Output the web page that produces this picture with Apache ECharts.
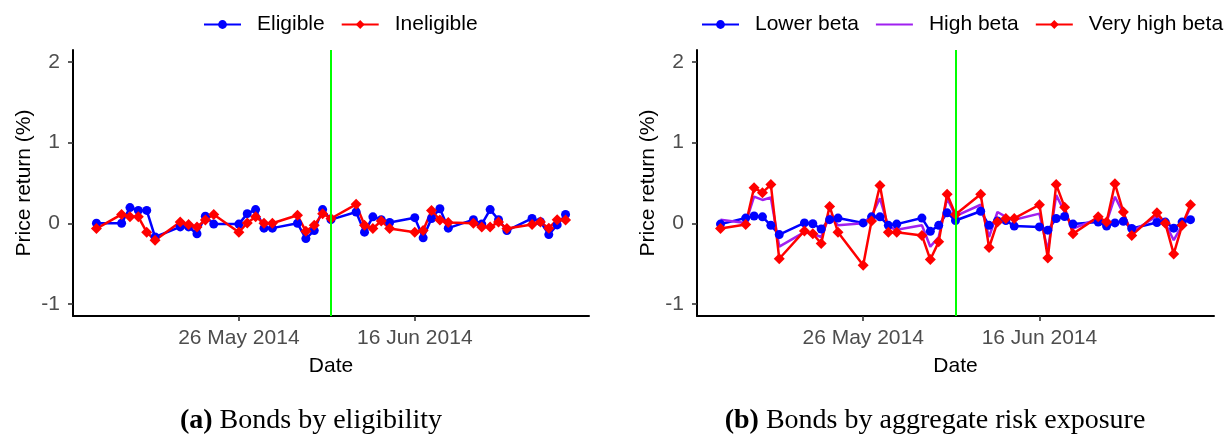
<!DOCTYPE html>
<html><head><meta charset="utf-8">
<script src="https://cdn.jsdelivr.net/npm/echarts@6/dist/echarts.min.js"></script>
<style>html,body{margin:0;padding:0;background:#fff}#c{width:1226px;height:435px}</style>
</head><body><div id="c"></div>
<script>
// ---------- data ----------
const dates = [
  '2014-05-09',
  '2014-05-12','2014-05-13','2014-05-14','2014-05-15','2014-05-16',
  '2014-05-19','2014-05-20','2014-05-21','2014-05-22','2014-05-23',
  '2014-05-26','2014-05-27','2014-05-28','2014-05-29','2014-05-30',
  '2014-06-02','2014-06-03','2014-06-04','2014-06-05','2014-06-06',
  '2014-06-09','2014-06-10','2014-06-11','2014-06-12','2014-06-13',
  '2014-06-16','2014-06-17','2014-06-18','2014-06-19','2014-06-20',
  '2014-06-23','2014-06-24','2014-06-25','2014-06-26','2014-06-27',
  '2014-06-30','2014-07-01','2014-07-02','2014-07-03','2014-07-04'
];
const eligible = [
  0.00,
  0.00, 0.195, 0.16, 0.16, -0.17,
  -0.045, -0.045, -0.13, 0.087, -0.01,
  -0.01, 0.12, 0.17, -0.06, -0.06,
  0.00, -0.19, -0.09, 0.17, 0.045,
  0.14, -0.11, 0.08, 0.045, 0.01,
  0.07, -0.18, 0.06, 0.18, -0.06,
  0.045, -0.01, 0.17, 0.045, -0.09,
  0.06, 0.02, -0.14, -0.02, 0.11
];
const ineligible = [
  -0.065,
  0.11, 0.08, 0.08, -0.11, -0.21,
  0.015, -0.015, -0.045, 0.04, 0.11,
  -0.11, 0.005, 0.08, 0.00, 0.00,
  0.10, -0.10, -0.025, 0.12, 0.06,
  0.235, -0.025, -0.065, 0.03, -0.065,
  -0.11, -0.09, 0.16, 0.04, 0.01,
  0.00, -0.045, -0.045, 0.015, -0.065,
  -0.015, 0.015, -0.06, 0.045, 0.04
];
const lowerBeta = [
  -0.01,
  0.065, 0.09, 0.08, -0.025, -0.14,
  0.005, -0.005, -0.07, 0.045, 0.065,
  0.005, 0.08, 0.08, -0.025, -0.01,
  0.065, -0.10, -0.025, 0.13, 0.035,
  0.15, -0.025, 0.03, 0.035, -0.035,
  -0.045, -0.085, 0.06, 0.085, -0.01,
  0.015, -0.035, 0.005, 0.025, -0.065,
  0.01, 0.015, -0.06, 0.015, 0.045
];
const highBeta = [
  0.045,
  0.005, 0.33, 0.29, 0.32, -0.29,
  -0.11, -0.13, -0.17, 0.10, -0.025,
  0.00, 0.09, 0.31, -0.045, -0.08,
  -0.025, -0.29, -0.17, 0.31, 0.09,
  0.23, -0.17, 0.14, 0.08, 0.045,
  0.12, -0.34, 0.35, 0.14, -0.065,
  0.06, 0.015, 0.33, 0.12, -0.11,
  0.09, 0.00, -0.21, -0.025, 0.20
];
const veryHighBeta = [
  -0.065,
  -0.015, 0.44, 0.38, 0.48, -0.44,
  -0.095, -0.13, -0.25, 0.21, -0.11,
  -0.52, 0.03, 0.47, -0.11, -0.11,
  -0.15, -0.45, -0.23, 0.36, 0.11,
  0.36, -0.30, 0.015, 0.06, 0.06,
  0.23, -0.43, 0.48, 0.20, -0.13,
  0.08, 0.015, 0.49, 0.14, -0.15,
  0.13, 0.00, -0.38, -0.025, 0.23
];
const eventDate = '2014-06-06';
const xTickDates = ['2014-05-26', '2014-06-16'];
const xTickLabels = ['26 May 2014', '16 Jun 2014'];
const yTicks = [-1, 0, 1, 2];
const legendA = ['Eligible', 'Ineligible'];
const legendB = ['Lower beta', 'High beta', 'Very high beta'];
const captionA = ['(a)', 'Bonds by eligibility'];
const captionB = ['(b)', 'Bonds by aggregate risk exposure'];
const xTitle = 'Date';
const yTitle = 'Price return (%)';

// ---------- helpers ----------
const FONT = '"Liberation Sans", Arial, Helvetica, sans-serif';
const SERIF = '"Liberation Serif", "Times New Roman", serif';
const DAY = 86400000;
function dayNum(s) { const p = s.split('-').map(Number); return Math.round(Date.UTC(p[0], p[1] - 1, p[2]) / DAY); }
const xTickDays = xTickDates.map(dayNum);
const firstDay = dayNum(dates[0]), lastDay = dayNum(dates[dates.length - 1]);
const xPad = (lastDay - firstDay) * 0.05;
function pairs(arr) { return dates.map((d, i) => [dayNum(d), arr[i]]); }

function xAxisOpt(gi) {
  return {
    type: 'value', gridIndex: gi, min: firstDay - xPad, max: lastDay + xPad,
    name: xTitle, nameLocation: 'middle', nameGap: 40,
    nameTextStyle: { color: '#000', fontSize: 21, fontFamily: FONT },
    axisLine: { show: true, onZero: false, lineStyle: { color: '#000', width: 2 } },
    axisTick: { show: true, length: 5, customValues: xTickDays, lineStyle: { color: '#333', width: 1.6 } },
    axisLabel: {
      show: true, customValues: xTickDays, color: '#4d4d4d', fontSize: 21, fontFamily: FONT, margin: 12,
      formatter: function (v) {
        for (let i = 0; i < xTickDays.length; i++) if (Math.abs(xTickDays[i] - v) < 0.5) return xTickLabels[i];
        return '';
      }
    },
    splitLine: { show: false }
  };
}
function yAxisOpt(gi) {
  return {
    type: 'value', gridIndex: gi, min: -1.15, max: 2.15,
    name: yTitle, nameLocation: 'middle', nameGap: 38,
    nameTextStyle: { color: '#000', fontSize: 21, fontFamily: FONT },
    axisLine: { show: true, onZero: false, lineStyle: { color: '#000', width: 2 } },
    axisTick: { show: true, length: 5, customValues: yTicks, lineStyle: { color: '#333', width: 1.6 } },
    axisLabel: { show: true, customValues: yTicks, color: '#4d4d4d', fontSize: 21, fontFamily: FONT, margin: 13 },
    splitLine: { show: false }
  };
}
function lineSeries(name, arr, color, symbol, size, gi, withEvent) {
  const s = {
    type: 'line', name: name, data: pairs(arr), xAxisIndex: gi, yAxisIndex: gi,
    symbol: symbol, symbolSize: size, showSymbol: symbol !== 'none',
    lineStyle: { color: color, width: 2.5 }, itemStyle: { color: color },
    emphasis: { disabled: true }, animation: false
  };
  if (withEvent) {
    s.markLine = {
      silent: true, symbol: ['none', 'none'], label: { show: false },
      lineStyle: { color: '#00ff00', width: 2, type: 'solid' },
      data: [{ xAxis: dayNum(eventDate) }], animation: false
    };
  }
  return s;
}
function legendOpt(items, left) {
  return {
    data: items, left: left, top: 14, width: 600, padding: 0,
    itemWidth: 37, itemHeight: 11, itemGap: 16,
    textStyle: { fontSize: 21, fontFamily: FONT, color: '#000', padding: [0, 0, 0, 11] },
    selectedMode: false
  };
}
function caption(parts, cx) {
  return {
    type: 'text', x: cx, y: 421,
    style: {
      text: '{b|' + parts[0] + '} ' + parts[1],
      align: 'center', verticalAlign: 'middle',
      fontSize: 28, fontFamily: SERIF, fill: '#000',
      rich: { b: { fontSize: 28, fontFamily: SERIF, fontWeight: 'bold', fill: '#000' } }
    }
  };
}

const chart = echarts.init(document.getElementById('c'), null, { renderer: 'canvas' });
chart.setOption({
  backgroundColor: '#fff',
  animation: false,
  grid: [
    { left: 73, top: 50, width: 516, height: 266 },
    { left: 697, top: 50, width: 517, height: 266 }
  ],
  xAxis: [xAxisOpt(0), xAxisOpt(1)],
  yAxis: [yAxisOpt(0), yAxisOpt(1)],
  legend: [
    legendOpt(legendA, 203),
    legendOpt([legendB[0], { name: legendB[1], itemStyle: { opacity: 0 } }, legendB[2]], 701)
  ],
  series: [
    lineSeries(legendA[0], eligible, '#0000ff', 'circle', 9, 0, true),
    lineSeries(legendA[1], ineligible, '#ff0000', 'diamond', 11, 0, false),
    lineSeries(legendB[0], lowerBeta, '#0000ff', 'circle', 9, 1, true),
    lineSeries(legendB[1], highBeta, '#a020f0', 'none', 0, 1, false),
    lineSeries(legendB[2], veryHighBeta, '#ff0000', 'diamond', 11, 1, false)
  ],
  graphic: [caption(captionA, 311), caption(captionB, 935)]
});
</script>
</body></html>
